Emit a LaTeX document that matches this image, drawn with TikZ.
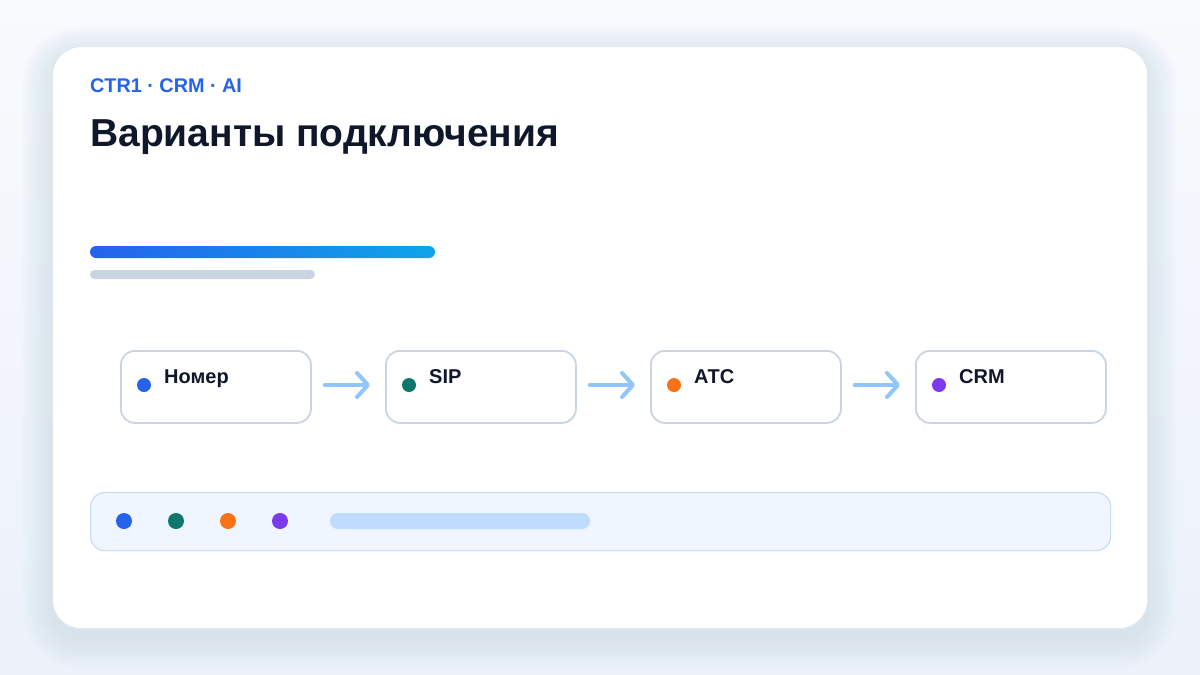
\documentclass[tikz,border=0pt]{standalone}
\usepackage{fontspec}
\setmainfont{Liberation Sans}
\usetikzlibrary{arrows.meta}
\definecolor{bgA}{HTML}{F8FAFD}
\definecolor{bgB}{HTML}{ECF1FA}
\definecolor{shadowc}{HTML}{64748B}
\definecolor{cardline}{HTML}{E2E8F0}
\definecolor{accent}{HTML}{2563EB}
\definecolor{titlec}{HTML}{0F172A}
\definecolor{gradB}{HTML}{0EA5E9}
\definecolor{graybar}{HTML}{CBD5E1}
\definecolor{boxline}{HTML}{CBD5E1}
\definecolor{arrowc}{HTML}{93C5FD}
\definecolor{panelfill}{HTML}{EFF6FF}
\definecolor{panelline}{HTML}{C7DDF7}
\definecolor{pill}{HTML}{BFDBFE}
\definecolor{dBlue}{HTML}{2563EB}
\definecolor{dTeal}{HTML}{0F766E}
\definecolor{dOrange}{HTML}{F97316}
\definecolor{dViolet}{HTML}{7C3AED}
\begin{document}
\begin{tikzpicture}[x=1pt,y=-1pt,
  stagebox/.style={draw=boxline, line width=1.8pt, fill=white, rounded corners=14pt,
    minimum width=190pt, minimum height=72pt, inner sep=0pt, anchor=north west},
  dotnode/.style={circle, fill=#1, minimum size=14pt, inner sep=0pt},
  stagelabel/.style={anchor=base west, inner sep=0pt, font=\fontsize{20}{24}\selectfont\bfseries, text=titlec},
  flow/.style={draw=arrowc, line width=4pt, line cap=round,
    -{Straight Barb[length=11pt,width=24pt,round]}, shorten <=13pt, shorten >=15pt},
]
\useasboundingbox (0,0) rectangle (1200,675);
\shade[top color=bgA, bottom color=bgB] (0,0) rectangle (1200,675);
% soft shadow of the card
\foreach \i in {2,4,...,30}{
  \fill[shadowc, opacity=0.008, rounded corners={28+\i}]
    ({52-\i},{46-\i+10}) rectangle ({1147+\i},{628+\i+10});
}
% card
\node[draw=cardline, line width=1.2pt, fill=white, rounded corners=28pt,
  minimum width=1095pt, minimum height=582pt, inner sep=0pt, anchor=north west]
  (card) at (52,46) {};
% header
\node[anchor=base west, inner sep=0pt, text=accent, font=\fontsize{19.8}{23}\selectfont\bfseries]
  (kicker) at (90,92) {CTR1 · CRM · AI};
\node[anchor=base west, inner sep=0pt, text=titlec, font=\fontsize{39}{46}\selectfont\bfseries]
  (title) at (90,146) {Варианты подключения};
% bars
\shade[left color=accent, right color=gradB, rounded corners=6pt] (90,246) rectangle (435,258);
\fill[graybar, rounded corners=4.5pt] (90,270) rectangle (315,279);
% stages
\node[stagebox] (b1) at (120,350) {};
\node[stagebox] (b2) at (385,350) {};
\node[stagebox] (b3) at (650,350) {};
\node[stagebox] (b4) at (915,350) {};
\node[dotnode=dBlue] (d1) at (144,385) {};
\node[dotnode=dTeal] (d2) at (409,385) {};
\node[dotnode=dOrange] (d3) at (674,385) {};
\node[dotnode=dViolet] (d4) at (939,385) {};
\node[stagelabel] (t1) at (164,383) {Номер};
\node[stagelabel] (t2) at (429,383) {SIP};
\node[stagelabel] (t3) at (694,383) {АТС};
\node[stagelabel] (t4) at (959,383) {CRM};
\coordinate (a1s) at (b1.east |- d1); \coordinate (a1e) at (b2.west |- d1);
\coordinate (a2s) at (b2.east |- d1); \coordinate (a2e) at (b3.west |- d1);
\coordinate (a3s) at (b3.east |- d1); \coordinate (a3e) at (b4.west |- d1);
\draw[flow] (a1s) -- (a1e);
\draw[flow] (a2s) -- (a2e);
\draw[flow] (a3s) -- (a3e);
% bottom panel
\node[draw=panelline, line width=1.2pt, fill=panelfill, rounded corners=14pt,
  minimum width=1020pt, minimum height=58pt, inner sep=0pt, anchor=north west]
  (panel) at (90,492) {};
\node[dotnode=dBlue, minimum size=16pt] (p1) at (124,521) {};
\node[dotnode=dTeal, minimum size=16pt] (p2) at (176,521) {};
\node[dotnode=dOrange, minimum size=16pt] (p3) at (228,521) {};
\node[dotnode=dViolet, minimum size=16pt] (p4) at (280,521) {};
\fill[pill, rounded corners=8pt] (330,513) rectangle (590,529);
\end{tikzpicture}
\end{document}
